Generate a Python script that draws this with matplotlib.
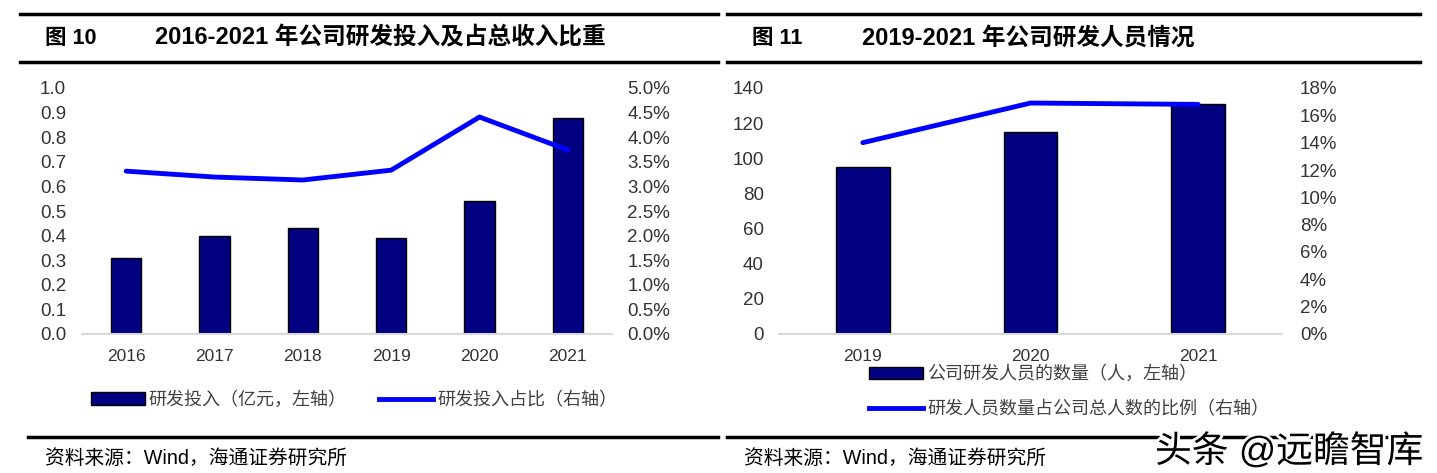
import matplotlib
matplotlib.use("Agg")
import matplotlib.pyplot as plt
import matplotlib.patches as mpatches
import matplotlib.lines as mlines
import matplotlib.patheffects as pe
from matplotlib.ticker import FuncFormatter

plt.rcParams["font.family"] = ["Liberation Sans", "Noto Sans CJK SC", "DejaVu Sans"]

# Figure 10 data
years_a = ["2016", "2017", "2018", "2019", "2020", "2021"]
rd_spend = [0.31, 0.40, 0.43, 0.39, 0.54, 0.88]          # 亿元
rd_ratio = [3.31, 3.19, 3.13, 3.33, 4.41, 3.74]          # %
left_ticks_a = [0.0, 0.1, 0.2, 0.3, 0.4, 0.5, 0.6, 0.7, 0.8, 0.9, 1.0]
right_ticks_a = [0.0, 0.5, 1.0, 1.5, 2.0, 2.5, 3.0, 3.5, 4.0, 4.5, 5.0]

# Figure 11 data
years_b = ["2019", "2020", "2021"]
rd_staff = [95, 115, 131]
staff_ratio = [14.0, 16.9, 16.8]                          # %
left_ticks_b = [0, 20, 40, 60, 80, 100, 120, 140]
right_ticks_b = [0, 2, 4, 6, 8, 10, 12, 14, 16, 18]

BAR = "#000080"
LINE = "#0000FF"
GRID = "#d9d9d9"
TXT = "#333333"

W, H = 1437, 473
fig = plt.figure(figsize=(W / 100, H / 100), dpi=100)


def fx(px):
    return px / W


def fy(py):
    return 1 - py / H


def style(ax, ax2):
    for a in (ax, ax2):
        for s in ("top", "left", "right"):
            a.spines[s].set_visible(False)
        a.spines["bottom"].set_color(GRID)
        a.spines["bottom"].set_linewidth(1.5)
        a.tick_params(length=0, labelsize=13.5, labelcolor=TXT)
    ax.tick_params(axis="x", labelsize=12.5, pad=11)
    ax2.spines["bottom"].set_visible(False)
    ax.set_facecolor("none")


def header(x0, x1, num, title):
    fig.add_artist(mlines.Line2D([fx(x0), fx(x1)], [fy(14), fy(14)], color="black", lw=2.5))
    fig.add_artist(mlines.Line2D([fx(x0), fx(x1)], [fy(62), fy(62)], color="black", lw=2.5))
    fig.text(fx(x0 + 25), fy(38), num, fontsize=15.5, fontweight="bold", va="center")
    fig.text(fx(x0 + 135), fy(38), title, fontsize=17, fontweight="bold", va="center")


def footer(x0, x1):
    fig.add_artist(mlines.Line2D([fx(x0), fx(x1)], [fy(437), fy(437)], color="black", lw=2.5))
    fig.text(fx(x0 + 17), fy(458), "资料来源：Wind，海通证券研究所", fontsize=14.2, va="center")


# ---- Figure 10 ----
ax = fig.add_axes([fx(82), fy(334), fx(612 - 82), fy(88) - fy(334)])
ax2 = ax.twinx()
xa = range(len(years_a))
ax.bar(xa, rd_spend, width=0.34, color=BAR, edgecolor="black", linewidth=1, zorder=2)
ax2.plot(xa, rd_ratio, color=LINE, lw=3.5, solid_capstyle="round", zorder=3)
ax.set_xlim(-0.5, 5.5)
ax.set_ylim(0, 1.0)
ax.set_yticks(left_ticks_a)
ax.yaxis.set_major_formatter(FuncFormatter(lambda v, p: f"{v:.1f}"))
ax2.set_ylim(0, 5.0)
ax2.set_yticks(right_ticks_a)
ax2.yaxis.set_major_formatter(FuncFormatter(lambda v, p: f"{v:.1f}%"))
ax.set_xticks(list(xa))
ax.set_xticklabels(years_a)
style(ax, ax2)
ax.tick_params(axis="y", pad=11.5)
ax2.tick_params(axis="y", pad=11)

h1 = mpatches.Patch(facecolor=BAR, edgecolor="black", label="研发投入（亿元，左轴）")
h2 = mlines.Line2D([], [], color=LINE, lw=3.5, label="研发投入占比（右轴）")
fig.legend(handles=[h1, h2], loc="center", bbox_to_anchor=(fx(354), fy(400)), ncol=2,
           frameon=False, fontsize=13, handlelength=3.0, handleheight=0.7,
           handletextpad=0.2, columnspacing=1.8, labelcolor="#404040")

header(20, 718, "图 10", "2016-2021 年公司研发投入及占总收入比重")
footer(28, 718)

# ---- Figure 11 ----
bx = fig.add_axes([fx(779), fy(334), fx(1282 - 779), fy(88) - fy(334)])
bx2 = bx.twinx()
xb = range(len(years_b))
bx.bar(xb, rd_staff, width=0.32, color=BAR, edgecolor="black", linewidth=1, zorder=2)
bx2.plot(xb, staff_ratio, color=LINE, lw=3.5, solid_capstyle="round", zorder=3)
bx.set_xlim(-0.5, 2.5)
bx.set_ylim(0, 140)
bx.set_yticks(left_ticks_b)
bx2.set_ylim(0, 18)
bx2.set_yticks(right_ticks_b)
bx2.yaxis.set_major_formatter(FuncFormatter(lambda v, p: f"{v:.0f}%"))
bx.set_xticks(list(xb))
bx.set_xticklabels(years_b)
style(bx, bx2)
bx.tick_params(axis="y", pad=11)
bx2.tick_params(axis="y", pad=13)

g1 = mpatches.Patch(facecolor=BAR, edgecolor="black", label="公司研发人员的数量（人，左轴）")
g2 = mlines.Line2D([], [], color=LINE, lw=3.5, label="研发人员数量占公司总人数的比例（右轴）")
fig.legend(handles=[g1, g2], loc="center left", bbox_to_anchor=(fx(853), fy(392)), ncol=1,
           frameon=False, fontsize=13, handlelength=3.0, handleheight=0.7,
           handletextpad=0.2, labelspacing=1.0, labelcolor="#404040")

header(727, 1420, "图 11", "2019-2021 年公司研发人员情况")
footer(727, 1420)

fig.text(fx(1155), fy(452), "头条 @远瞻智库", fontsize=26.5, va="center", color="black",
         path_effects=[pe.withStroke(linewidth=4, foreground="white")])

fig.savefig("out.png", dpi=100, facecolor="white")
